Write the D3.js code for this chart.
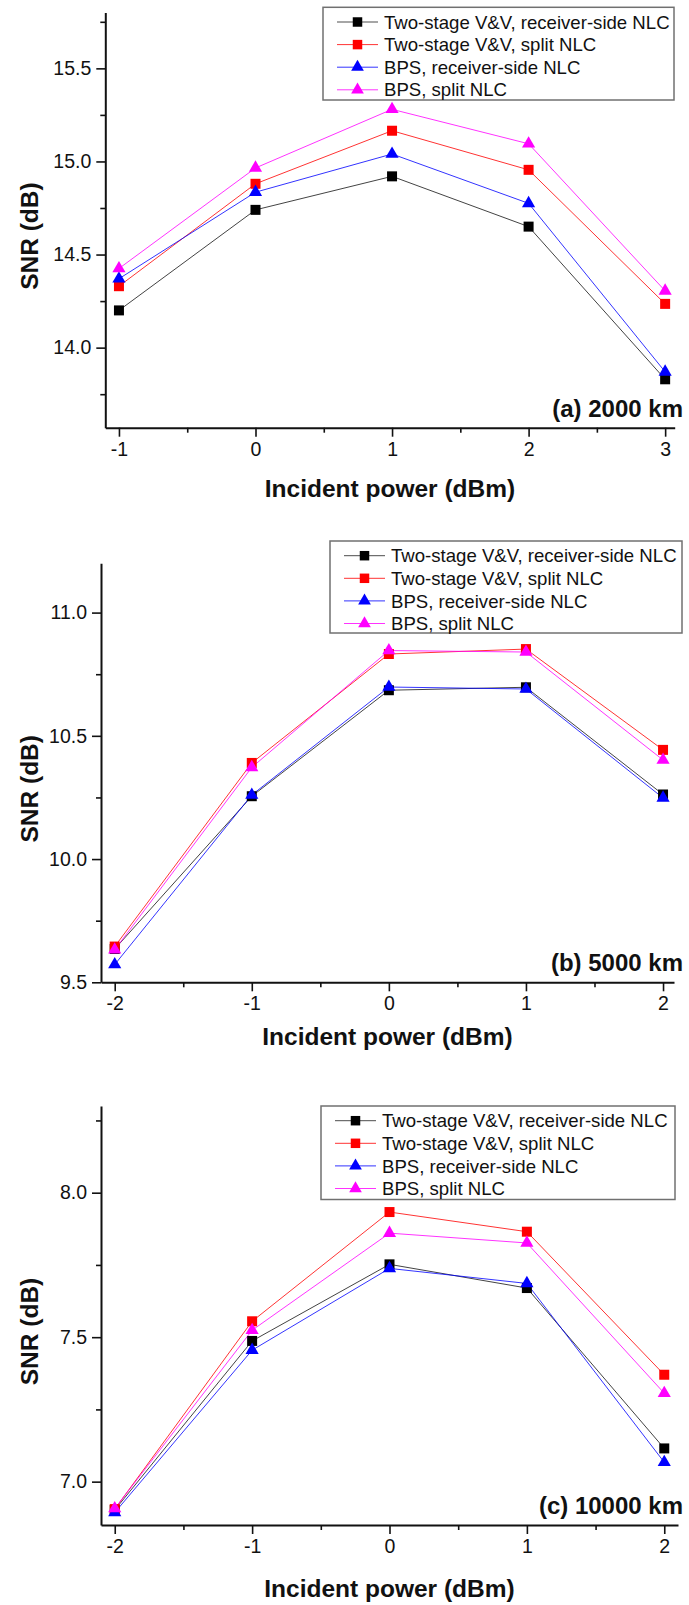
<!DOCTYPE html>
<html>
<head>
<meta charset="utf-8">
<script src="https://cdn.jsdelivr.net/npm/d3@7"></script>
<style>
  html, body { margin: 0; padding: 0; background: #fff; }
  svg { display: block; }
  text { font-family: "Liberation Sans", Arial, Helvetica, sans-serif; fill: #111; }
</style>
</head>
<body>
<svg id="chart" width="689" height="1605"></svg>
<script>
// ---------------- data ----------------
const seriesNames = [
  "Two-stage V&V, receiver-side NLC",
  "Two-stage V&V, split NLC",
  "BPS, receiver-side NLC",
  "BPS, split NLC"
];
const seriesColors = ["#222222", "#ff0000", "#0000ff", "#ff00ff"];
const seriesMarkers = ["square", "square", "triangle", "triangle"];

const powerA = [-1, 0, 1, 2, 3];
const powerBC = [-2, -1, 0, 1, 2];

// (a) 2000 km
const a_vv_rx    = [14.20, 14.74, 14.92, 14.65, 13.83];
const a_vv_split = [14.33, 14.88, 15.165, 14.955, 14.235];
const a_bps_rx   = [14.37, 14.835, 15.04, 14.775, 13.87];
const a_bps_split= [14.425, 14.965, 15.28, 15.095, 14.305];

// (b) 5000 km
const b_vv_rx    = [9.635, 10.255, 10.685, 10.697, 10.262];
const b_vv_split = [9.645, 10.39, 10.832, 10.852, 10.443];
const b_bps_rx   = [9.572, 10.26, 10.698, 10.690, 10.248];
const b_bps_split= [9.632, 10.372, 10.846, 10.840, 10.402];

// (c) 10000 km
const c_vv_rx    = [6.902, 7.487, 7.752, 7.670, 7.115];
const c_vv_split = [6.905, 7.555, 7.933, 7.865, 7.370];
const c_bps_rx   = [6.893, 7.455, 7.738, 7.686, 7.067];
const c_bps_split= [6.907, 7.524, 7.860, 7.826, 7.306];

const yTicksA = [14.0, 14.5, 15.0, 15.5];
const yTicksB = [9.5, 10.0, 10.5, 11.0];
const yTicksC = [7.0, 7.5, 8.0];
const panelLabels = ["(a) 2000 km", "(b) 5000 km", "(c) 10000 km"];
const xTitle = "Incident power (dBm)";
const yTitle = "SNR (dB)";

// ---------------- layout ----------------
const panels = [
  { x: powerA, series: [a_vv_rx, a_vv_split, a_bps_rx, a_bps_split],
    xDom: [-1.1, 3.07], xRange: [105.3, 674.7], yDom: [13.57, 15.8], yRange: [427.7, 12.5],
    yTicks: yTicksA, yMinor: [13.75, 14.25, 14.75, 15.25, 15.75],
    xTicks: [-1, 0, 1, 2, 3], xMinor: [-0.5, 0.5, 1.5, 2.5],
    legend: { x: 323, y: 7.3, w: 351, h: 92.7 }, label: panelLabels[0], titleY: 497 },
  { x: powerBC, series: [b_vv_rx, b_vv_split, b_bps_rx, b_bps_split],
    xDom: [-2.1, 2.08], xRange: [101, 674], yDom: [9.5, 11.2], yRange: [982.3, 563.3],
    yTicks: yTicksB, yMinor: [9.75, 10.25, 10.75],
    xTicks: [-2, -1, 0, 1, 2], xMinor: [-1.5, -0.5, 0.5, 1.5],
    legend: { x: 330, y: 541, w: 352, h: 92 }, label: panelLabels[1], titleY: 1045 },
  { x: powerBC, series: [c_vv_rx, c_vv_split, c_bps_rx, c_bps_split],
    xDom: [-2.1, 2.1], xRange: [101, 678], yDom: [6.85, 8.3], yRange: [1525, 1106],
    yTicks: yTicksC, yMinor: [7.25, 7.75, 8.25],
    xTicks: [-2, -1, 0, 1, 2], xMinor: [-1.5, -0.5, 0.5, 1.5],
    legend: { x: 321, y: 1106, w: 354, h: 93.5 }, label: panelLabels[2], titleY: 1597 }
];

const svg = d3.select("#chart");

function markerPath(type, forLegend) {
  if (type === "square") return d3.symbol().type(d3.symbolSquare).size(forLegend ? 90 : 100)();
  return d3.symbol().type(d3.symbolTriangle).size(forLegend ? 70 : 75)();
}

panels.forEach(p => {
  const x = d3.scaleLinear().domain(p.xDom).range(p.xRange);
  const y = d3.scaleLinear().domain(p.yDom).range(p.yRange);
  const g = svg.append("g");
  const x0 = p.xRange[0], yb = p.yRange[0];

  // minor ticks
  g.append("g").attr("transform", `translate(${x0},0)`)
    .call(d3.axisLeft(y).tickValues(p.yMinor).tickSize(5).tickSizeOuter(0).tickFormat(""))
    .call(s => s.select(".domain").remove())
    .call(s => s.selectAll("line").attr("stroke", "#111").attr("stroke-width", 1.6));
  g.append("g").attr("transform", `translate(0,${yb})`)
    .call(d3.axisBottom(x).tickValues(p.xMinor).tickSize(5).tickSizeOuter(0).tickFormat(""))
    .call(s => s.select(".domain").remove())
    .call(s => s.selectAll("line").attr("stroke", "#111").attr("stroke-width", 1.6));

  // major y axis
  g.append("g").attr("transform", `translate(${x0},0)`)
    .call(d3.axisLeft(y).tickValues(p.yTicks).tickSize(9).tickSizeOuter(0).tickPadding(5)
      .tickFormat(d => d.toFixed(1)))
    .call(s => s.select(".domain").attr("stroke", "#111").attr("stroke-width", 2))
    .call(s => s.selectAll(".tick line").attr("stroke", "#111").attr("stroke-width", 1.6))
    .call(s => s.selectAll(".tick text").attr("font-size", 19.5).attr("fill", "#111")
      .attr("font-family", "'Liberation Sans', Arial, sans-serif"));

  // major x axis
  g.append("g").attr("transform", `translate(0,${yb})`)
    .call(d3.axisBottom(x).tickValues(p.xTicks).tickSize(9).tickSizeOuter(0).tickPadding(5)
      .tickFormat(d => String(d)))
    .call(s => s.select(".domain").attr("stroke", "#111").attr("stroke-width", 2))
    .call(s => s.selectAll(".tick line").attr("stroke", "#111").attr("stroke-width", 1.6))
    .call(s => s.selectAll(".tick text").attr("font-size", 19.5).attr("fill", "#111")
      .attr("font-family", "'Liberation Sans', Arial, sans-serif"));

  // series
  const line = d3.line().x(d => x(d[0])).y(d => y(d[1]));
  p.series.forEach((vals, si) => {
    const pts = p.x.map((xv, i) => [xv, vals[i]]);
    g.append("path").attr("d", line(pts)).attr("fill", "none")
      .attr("stroke", seriesColors[si]).attr("stroke-width", 1).attr("opacity", si === 0 ? 0.85 : 0.8);
  });
  p.series.forEach((vals, si) => {
    const pts = p.x.map((xv, i) => [xv, vals[i]]);
    g.selectAll(null).data(pts).enter().append("path")
      .attr("d", markerPath(seriesMarkers[si], false))
      .attr("transform", d => `translate(${x(d[0])},${y(d[1])})`)
      .attr("fill", si === 0 ? "#000" : seriesColors[si]);
  });

  // axis titles
  const ymid = (p.yRange[0] + p.yRange[1]) / 2 + 16;
  g.append("text").attr("transform", `translate(38,${ymid}) rotate(-90)`)
    .attr("text-anchor", "middle").attr("font-size", 24.5).attr("font-weight", "bold").text(yTitle);
  g.append("text").attr("x", (p.xRange[0] + p.xRange[1]) / 2).attr("y", p.titleY)
    .attr("text-anchor", "middle").attr("font-size", 24.5).attr("font-weight", "bold").text(xTitle);

  // panel label
  g.append("text").attr("x", 683).attr("y", yb - 11).attr("text-anchor", "end")
    .attr("font-size", 24).attr("font-weight", "bold").text(p.label);

  // legend
  const L = p.legend;
  const lg = g.append("g").attr("transform", `translate(${L.x},${L.y})`);
  lg.append("rect").attr("width", L.w).attr("height", L.h).attr("fill", "#fff")
    .attr("stroke", "#707070").attr("stroke-width", 1.5);
  seriesNames.forEach((name, si) => {
    const cy = 14.7 + si * 22.6;
    lg.append("line").attr("x1", 14).attr("x2", 55).attr("y1", cy).attr("y2", cy)
      .attr("stroke", seriesColors[si]).attr("stroke-width", 1).attr("opacity", 0.8);
    lg.append("path").attr("d", markerPath(seriesMarkers[si], true))
      .attr("transform", `translate(34.5,${cy})`)
      .attr("fill", si === 0 ? "#000" : seriesColors[si]);
    lg.append("text").attr("x", 61).attr("y", cy + 6.7).attr("font-size", 18.6).text(name);
  });
});
</script>
</body>
</html>
